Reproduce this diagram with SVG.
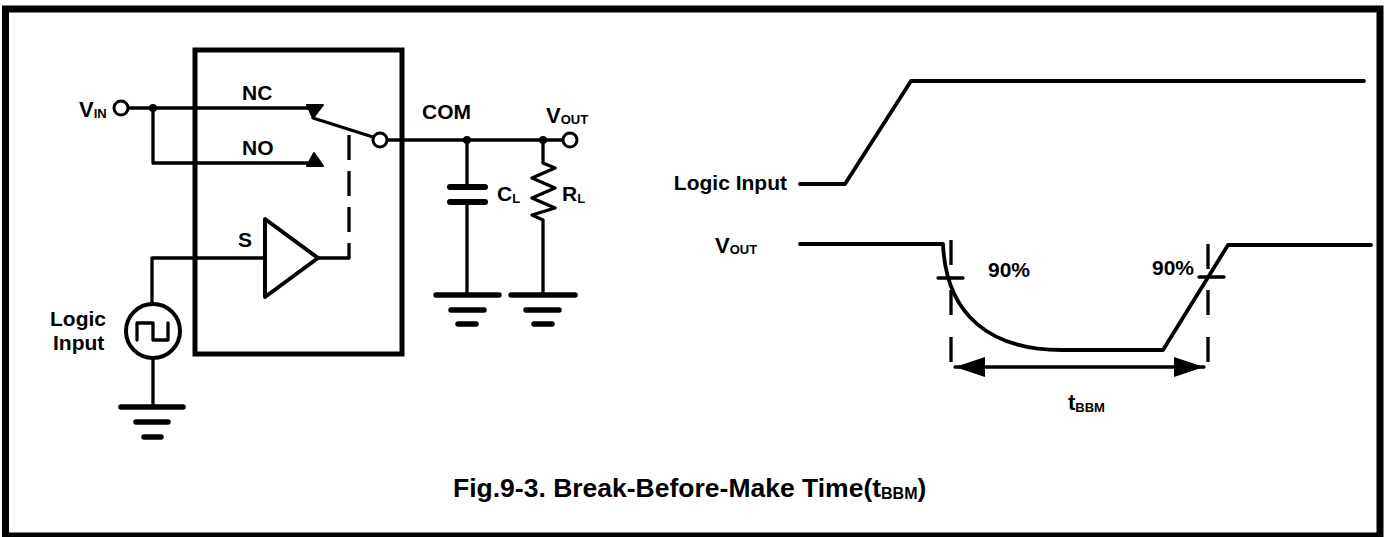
<svg xmlns="http://www.w3.org/2000/svg" width="1385" height="537" viewBox="0 0 1385 537">
<style>
.w{stroke:#000;stroke-width:3.3;fill:none;stroke-linecap:round;stroke-linejoin:round}
.wt{stroke:#000;stroke-width:3.8;fill:none;stroke-linecap:round;stroke-linejoin:round}
.g{stroke:#000;stroke-width:5.5;fill:none;stroke-linecap:round}
.plate{stroke:#000;stroke-width:6;fill:none;stroke-linecap:round}
.dash{stroke:#000;stroke-width:3.3;fill:none;stroke-dasharray:25 11}
.dot{fill:#000}
.t{font-family:"Liberation Sans",Arial,sans-serif;font-weight:bold;fill:#000;font-size:21px}
.s{font-size:13px}
</style>
<defs>
<marker id="ah" viewBox="0 0 30 20" refX="30" refY="10" markerWidth="30" markerHeight="20" markerUnits="userSpaceOnUse" orient="auto-start-reverse">
<path d="M0,0 L30,10 L0,20 Z" fill="#000"/>
</marker>
</defs>
<rect id="frame" x="5.5" y="9" width="1374.5" height="527" fill="#fff" stroke="#000" stroke-width="7"/>

<g id="chip">
<rect x="195" y="50" width="207" height="304" fill="none" stroke="#000" stroke-width="5"/>
</g>

<g id="connectors">
<path class="w" d="M128,108 H310"/>
<path class="w" d="M153,108 V163 H308"/>
<path class="w" d="M313,118 L373,137"/>
<path class="w" d="M387,140 H563"/>
<path class="w" d="M318,258 H349"/>
<path class="dash" d="M349,135 V258"/>
<path class="w" d="M265,258 H152 V304"/>
<path class="w" d="M153,358 V407"/>
<path class="w" d="M467,140 V187 M467,202 V295"/>
<path class="w" d="M543,140 V163 L555,168 L532,178 L555,188 L532,198 L555,208 L532,215 L543,220 V295"/>
</g>

<g id="vin">
<circle cx="121" cy="108" r="7" fill="#fff" stroke="#000" stroke-width="3"/>
<circle class="dot" cx="153" cy="108" r="4"/>
<text class="t" x="79" y="117" style="font-size:22px">V<tspan class="s" dy="1">IN</tspan></text>
</g>

<g id="nc">
<path d="M307,105 L323,105 L313,118 Z" fill="#000" stroke="#000" stroke-width="2" stroke-linejoin="round"/>
<text class="t" x="242" y="100">NC</text>
</g>

<g id="no">
<path d="M307,166 L323,166 L314,153 Z" fill="#000" stroke="#000" stroke-width="2" stroke-linejoin="round"/>
<text class="t" x="242" y="155">NO</text>
</g>

<g id="com">
<circle cx="380" cy="140" r="7" fill="#fff" stroke="#000" stroke-width="3"/>
<text class="t" x="422" y="119">COM</text>
<circle class="dot" cx="467" cy="140" r="4"/>
<circle class="dot" cx="543" cy="140" r="4"/>
</g>

<g id="vout">
<circle cx="570" cy="140" r="7" fill="#fff" stroke="#000" stroke-width="3"/>
<text class="t" x="546" y="123" style="font-size:22px">V<tspan class="s" dy="1">OUT</tspan></text>
</g>

<g id="amp">
<path d="M265,219 L318,258 L265,297 Z" fill="none" stroke="#000" stroke-width="4" stroke-linejoin="round"/>
<text class="t" x="238" y="247">S</text>
</g>

<g id="source">
<circle cx="153" cy="331" r="27" fill="none" stroke="#000" stroke-width="4"/>
<path class="w" d="M137,340 V323 H153 V340 H168 V323"/>
<text class="t" x="50" y="326">Logic</text>
<text class="t" x="53" y="350">Input</text>
</g>

<g id="gnd1">
<path class="g" d="M121,407 H183 M136,422 H168 M144,437 H161"/>
</g>

<g id="cl">
<path class="plate" d="M450,187 H485 M450,202 H485"/>
<text class="t" x="497" y="201">C<tspan class="s" dy="2">L</tspan></text>
</g>
<g id="gnd2">
<path class="g" d="M436,295 H499 M451,310 H484 M458,324 H476"/>
</g>

<g id="rl">
<text class="t" x="562" y="201">R<tspan class="s" dy="2">L</tspan></text>
</g>
<g id="gnd3">
<path class="g" d="M511,295 H575 M526,310 H559 M534,324 H552"/>
</g>

<g id="timing">
<text class="t" x="787" y="190" text-anchor="end">Logic Input</text>
<path class="wt" d="M800,184 H845 L911,81 H1364"/>
<text class="t" x="715" y="253" style="font-size:22px">V<tspan class="s" dy="1">OUT</tspan></text>
<path class="wt" d="M800,244 H943 C946,315 990,350 1062,350 H1163 L1228,245 H1371"/>
<path class="dash" d="M951,240 V273 M951,290 V319 M951,337 V367" stroke-dasharray="none"/>
<path class="dash" d="M1208,244 V272 M1208,290 V319 M1208,337 V367" stroke-dasharray="none"/>
<path class="w" d="M938,278 H963 M1199,277 H1224"/>
<path class="w" d="M955,367 H1204" marker-start="url(#ah)" marker-end="url(#ah)"/>
<text class="t" x="988" y="277">90%</text>
<text class="t" x="1152" y="275">90%</text>
<text class="t" x="1068" y="410" style="font-size:22px">t<tspan class="s" dy="2">BBM</tspan></text>
</g>

<g id="caption">
<text class="t" x="453" y="497" style="font-size:26.5px">Fig.9-3. Break-Before-Make Time(t<tspan style="font-size:16px" dy="2">BBM</tspan><tspan dy="-2">)</tspan></text>
</g>
</svg>
